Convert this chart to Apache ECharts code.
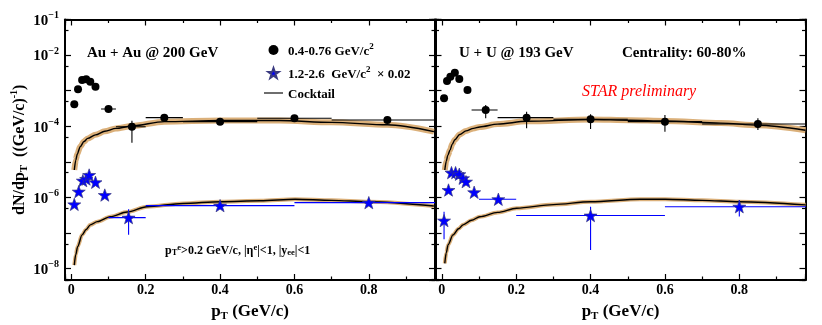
<!DOCTYPE html>
<html>
<head>
<meta charset="utf-8">
<script src="https://cdn.jsdelivr.net/npm/echarts@6/dist/echarts.min.js"></script>
<style>
html, body { margin: 0; padding: 0; background: #fff; }
#chart { width: 822px; height: 325px; }
</style>
</head>
<body>
<div id="chart"></div>
<script>
// ---- values ----
// rows: [pT, dN/dpT, xLow, xHigh, yLow, yHigh]   (null = no visible bar)
const auLmr = [
    [0.008, 4.15e-4], [0.018, 1.09e-3], [0.029, 2.0e-3], [0.040, 2.09e-3],
    [0.051, 1.79e-3], [0.065, 1.29e-3], [0.10, 3.06e-4, 0.08, 0.12],
    [0.163, 9.7e-5, 0.12, 0.2, 3.46e-5, 1.44e-4], [0.25, 1.75e-4, 0.2, 0.3],
    [0.40, 1.35e-4, 0.3, 0.5], [0.60, 1.68e-4, 0.5, 0.7], [0.85, 1.50e-4, 0.7, 1.0]
];
const auImr = [
    [0.008, 6.4e-7], [0.02, 1.46e-6], [0.031, 2.97e-6], [0.040, 3.3e-6],
    [0.048, 4.28e-6], [0.065, 2.67e-6], [0.09, 1.17e-6],
    [0.154, 2.71e-7, 0.1, 0.2, 8.9e-8, 4.7e-7], [0.40, 5.89e-7, 0.2, 0.6],
    [0.80, 7.15e-7, 0.6, 1.0]
];
const uuLmr = [
    [0.006, 6.1e-4], [0.014, 1.87e-3], [0.023, 2.47e-3], [0.035, 3.2e-3],
    [0.047, 2.13e-3], [0.069, 1.05e-3],
    [0.118, 2.87e-4, 0.08, 0.15, 1.68e-4, 3.96e-4],
    [0.228, 1.75e-4, 0.15, 0.3, 8.8e-5, 2.57e-4],
    [0.40, 1.57e-4, 0.3, 0.5, 8.4e-5, 2.17e-4],
    [0.60, 1.35e-4, 0.5, 0.7, 7.0e-5, 2.07e-4],
    [0.85, 1.16e-4, 0.7, 1.0, 7.9e-5, 1.68e-4]
];
const uuImr = [
    [0.006, 2.24e-7, null, null, 6.7e-8, 4.0e-7], [0.018, 1.62e-6], [0.026, 4.98e-6],
    [0.037, 4.98e-6], [0.047, 4.49e-6], [0.057, 3.46e-6], [0.065, 2.78e-6],
    [0.087, 1.40e-6], [0.152, 8.9e-7, 0.1, 0.2],
    [0.40, 3.1e-7, 0.2, 0.6, 3.35e-8, 5.5e-7], [0.80, 5.5e-7, 0.6, 1.0, 2.9e-7, 8.5e-7]
];

// cocktail curves
const auLmrCktPt = [0.008, 0.012, 0.016, 0.024, 0.034, 0.044, 0.065, 0.09, 0.12, 0.163, 0.25, 0.4, 0.56, 0.7, 0.85, 0.975];
const auLmrCkt = [5.9e-6, 1.12e-5, 1.66e-5, 2.69e-5, 3.72e-5, 4.57e-5, 5.75e-5, 7.24e-5, 8.71e-5, 1.02e-4, 1.35e-4, 1.45e-4, 1.45e-4, 1.29e-4, 1.10e-4, 7.1e-5];
const auImrCktPt = [0.008, 0.012, 0.017, 0.029, 0.04, 0.051, 0.07, 0.105, 0.15, 0.203, 0.3, 0.402, 0.508, 0.602, 0.7, 0.8, 0.975];
const auImrCkt = [1.26e-8, 2.5e-8, 4.17e-8, 8.9e-8, 1.26e-7, 1.70e-7, 2.09e-7, 2.88e-7, 3.89e-7, 5.5e-7, 6.8e-7, 7.6e-7, 8.1e-7, 8.9e-7, 8.3e-7, 7.6e-7, 5.75e-7];
const uuLmrCktPt = [0.008, 0.012, 0.016, 0.022, 0.028, 0.035, 0.048, 0.065, 0.085, 0.102, 0.15, 0.228, 0.4, 0.507, 0.6, 0.75, 0.85, 0.978];
const uuLmrCkt = [5.9e-6, 1.05e-5, 1.51e-5, 2.14e-5, 3.16e-5, 4.17e-5, 5.89e-5, 7.41e-5, 8.71e-5, 9.55e-5, 1.15e-4, 1.38e-4, 1.55e-4, 1.48e-4, 1.41e-4, 1.23e-4, 1.07e-4, 7.76e-5];
const uuImrCktPt = [0.008, 0.012, 0.017, 0.03, 0.045, 0.057, 0.08, 0.102, 0.15, 0.201, 0.3, 0.4, 0.534, 0.601, 0.7, 0.8, 0.978];
const uuImrCkt = [1.41e-8, 2.8e-8, 4.7e-8, 8.9e-8, 1.32e-7, 1.70e-7, 2.29e-7, 2.88e-7, 3.8e-7, 5.0e-7, 6.3e-7, 7.6e-7, 8.9e-7, 8.9e-7, 8.3e-7, 7.6e-7, 6.2e-7];

// axis ranges and labelled decades
const XMIN = -0.017, XMAX = 0.978;
const YMIN = 4.8e-9, YMAX = 0.1;
const yLabelExps = [-1, -2, -4, -6, -8];

// ---- styles ----
const SERIF = 'Liberation Serif';
const BAND = '#dbb07a';
const STAR = 'path://M0,-10 L2.35,-3.24 L9.51,-3.09 L3.8,1.24 L5.88,8.09 L0,4 L-5.88,8.09 L-3.8,1.24 L-9.51,-3.09 L-2.35,-3.24 Z';
const LINE_ICON = 'path://M0,0 L40,0 L40,2.4 L0,2.4 Z';
const frameLine = { show: true, onZero: false, lineStyle: { color: '#000', width: 2 } };
const noLine = { show: false, onZero: false };
const majorTick = { show: true, inside: true, length: 6, lineStyle: { color: '#000', width: 1.2 } };
const minorTick = { show: true, inside: true, length: 3.5, lineStyle: { color: '#000', width: 1.2 } };
const sup = (size, lift) => ({ fontFamily: SERIF, fontWeight: 'bold', fontSize: size, lineHeight: size, verticalAlign: 'top', padding: [0, 0, lift, 0], color: '#000' });
const sub = (size, drop) => ({ fontFamily: SERIF, fontWeight: 'bold', fontSize: size, lineHeight: size, verticalAlign: 'bottom', padding: [drop, 0, 0, 0], color: '#000' });
const base = (size, lh) => ({ fontFamily: SERIF, fontWeight: 'bold', fontSize: size, lineHeight: lh, verticalAlign: 'bottom', color: '#000' });

function xAxesFor(g) {
    const common = { gridIndex: g, type: 'value', splitLine: { show: false }, axisLabel: { show: false } };
    return [
        {
            ...common, min: XMIN, max: XMAX, position: 'bottom', splitNumber: 5,
            axisLine: frameLine, axisTick: majorTick,
            axisLabel: {
                show: true, margin: 3, color: '#000', fontFamily: SERIF, fontWeight: 'bold', fontSize: 14,
                formatter: v => Math.abs(v * 5 - Math.round(v * 5)) < 1e-6 ? String(+v.toFixed(1)) : ''
            },
            name: 'p{s|T} (GeV/c)', nameLocation: 'middle', nameGap: 11,
            nameTextStyle: { ...base(17, 20), rich: { s: sub(11, 8) } }
        },
        { ...common, min: XMIN, max: XMAX, position: 'top', splitNumber: 5, axisLine: frameLine, axisTick: majorTick },
        // shifted copies give the small ticks at 0.1, 0.3, ...
        { ...common, min: XMIN + 0.1, max: XMAX + 0.1, position: 'bottom', splitNumber: 5, axisLine: noLine, axisTick: minorTick },
        { ...common, min: XMIN + 0.1, max: XMAX + 0.1, position: 'top', splitNumber: 5, axisLine: noLine, axisTick: minorTick }
    ];
}

function yAxesFor(g) {
    const common = { gridIndex: g, type: 'log', logBase: 10, splitNumber: 8, splitLine: { show: false }, axisLabel: { show: false } };
    const left = { ...common, min: YMIN, max: YMAX, position: 'left', axisLine: frameLine, axisTick: majorTick };
    if (g === 0) {
        left.axisLabel = {
            show: true, margin: 6, color: '#000',
            formatter: v => {
                const l = Math.log10(v), e = Math.round(l);
                if (Math.abs(l - e) > 0.01 || !yLabelExps.includes(e)) return '';
                return '{b|10}{s|' + (e < 0 ? '\u2212' : '') + Math.abs(e) + '}';
            },
            rich: { b: base(15, 18), s: sup(10, 10) }
        };
        left.name = 'dN/dp{s|T}  ((GeV/c){u|-1})';
        left.nameLocation = 'middle';
        left.nameGap = 28;
        left.nameTextStyle = { ...base(16, 20), rich: { s: sub(11, 8), u: sup(10, 9) } };
    }
    return [
        left,
        { ...common, min: YMIN, max: YMAX, position: 'right', axisLine: frameLine, axisTick: majorTick },
        // doubled range puts the small ticks at 5 x 10^n
        { ...common, min: YMIN * 2, max: YMAX * 2, position: 'left', axisLine: noLine, axisTick: minorTick },
        { ...common, min: YMIN * 2, max: YMAX * 2, position: 'right', axisLine: noLine, axisTick: minorTick }
    ];
}

function errorBars(g, rows, color) {
    return {
        type: 'custom', name: 'err', xAxisIndex: g * 4, yAxisIndex: g * 4, clip: true, silent: true, z: 3,
        data: rows.map(r => [r[0], r[1]]),
        renderItem: (params, api) => {
            const r = rows[params.dataIndex];
            const kids = [];
            const st = { stroke: color, lineWidth: 1.1 };
            if (r[2] != null) {
                const a = api.coord([r[2], r[1]]), b = api.coord([r[3], r[1]]);
                kids.push({ type: 'line', shape: { x1: a[0], y1: a[1], x2: b[0], y2: b[1] }, style: st });
            }
            if (r[4] != null) {
                const a = api.coord([r[0], r[4]]), b = api.coord([r[0], r[5]]);
                kids.push({ type: 'line', shape: { x1: a[0], y1: a[1], x2: b[0], y2: b[1] }, style: st });
            }
            return { type: 'group', children: kids };
        }
    };
}

function points(g, rows, name, symbol, size, color) {
    const isStar = symbol !== 'circle';
    return {
        type: 'scatter', name: name, xAxisIndex: g * 4, yAxisIndex: g * 4, z: 4,
        symbol: symbol, symbolSize: size, symbolKeepAspect: true,
        itemStyle: { color: color, borderColor: isStar ? '#3a3a80' : '#000', borderWidth: isStar ? 0.7 : 0, opacity: 1 },
        data: rows.map(r => [r[0], r[1]])
    };
}

function cocktail(g, pts, vals, bandWidth) {
    const data = pts.map((x, i) => [x, vals[i]]);
    const common = { type: 'line', xAxisIndex: g * 4, yAxisIndex: g * 4, symbol: 'none', smooth: 0.3, smoothMonotone: 'x', silent: true, data: data };
    return [
        { ...common, name: 'band', z: 1, lineStyle: { color: BAND, width: bandWidth } },
        { ...common, name: 'Cocktail', z: 2, lineStyle: { color: '#000', width: 1.4 }, itemStyle: { color: '#000' } }
    ];
}

const legendText = {
    lmr: '{t|0.4-0.76 GeV/c}{s|2}',
    imr: '{t|1.2-2.6  GeV/c}{s|2}{t|  \u00d7 0.02}',
    Cocktail: '{t|Cocktail}'
};

const chart = echarts.init(document.getElementById('chart'), null, { renderer: 'canvas' });

chart.setOption({
    animation: false,
    backgroundColor: '#fff',
    grid: [
        { left: 65, top: 19.5, width: 370, height: 260.5, outerBoundsMode: 'none', containLabel: false },
        { left: 435.5, top: 19.5, width: 370, height: 260.5, outerBoundsMode: 'none', containLabel: false }
    ],
    xAxis: [...xAxesFor(0), ...xAxesFor(1)],
    yAxis: [...yAxesFor(0), ...yAxesFor(1)],
    legend: {
        orient: 'vertical', left: 264, top: 42, padding: 0, itemWidth: 19, itemHeight: 10, itemGap: 6,
        selectedMode: false,
        data: [
            { name: 'lmr', icon: 'circle' },
            { name: 'imr', icon: STAR },
            { name: 'Cocktail', icon: LINE_ICON, itemStyle: { color: '#000' } }
        ],
        formatter: n => legendText[n],
        textStyle: { color: '#000', rich: { t: base(13, 16), s: sup(9, 8) } }
    },
    graphic: [
        { type: 'text', left: 87, top: 46, style: { text: 'Au + Au @ 200 GeV', font: 'bold 15px "Liberation Serif"', fill: '#000' } },
        { type: 'text', left: 459, top: 46, style: { text: 'U + U @ 193 GeV', font: 'bold 15px "Liberation Serif"', fill: '#000' } },
        { type: 'text', left: 622, top: 46, style: { text: 'Centrality: 60-80%', font: 'bold 15px "Liberation Serif"', fill: '#000' } },
        { type: 'text', left: 582, top: 84, style: { text: 'STAR preliminary', font: 'italic 16px "Liberation Serif"', fill: '#ff0000' } },
        {
            type: 'text', left: 165, top: 242,
            style: {
                text: '{b|p}{s|T}{u|e}{b|>0.2 GeV/c, |\u03b7}{u|e}{b||<1, |y}{s|ee}{b||<1}',
                rich: { b: base(12, 14), s: sub(8.5, 6), u: sup(8.5, 6) }
            }
        }
    ],
    series: [
        ...cocktail(0, auLmrCktPt, auLmrCkt, 6),
        ...cocktail(0, auImrCktPt, auImrCkt, 4),
        ...cocktail(1, uuLmrCktPt, uuLmrCkt, 6),
        ...cocktail(1, uuImrCktPt, uuImrCkt, 4),
        errorBars(0, auLmr, '#000'),
        errorBars(0, auImr, '#0000ff'),
        errorBars(1, uuLmr, '#000'),
        errorBars(1, uuImr, '#0000ff'),
        points(0, auLmr, 'lmr', 'circle', 8, '#000'),
        points(0, auImr, 'imr', STAR, 13, '#0000ff'),
        points(1, uuLmr, 'lmr', 'circle', 8, '#000'),
        points(1, uuImr, 'imr', STAR, 13, '#0000ff')
    ]
});
</script>
</body>
</html>
